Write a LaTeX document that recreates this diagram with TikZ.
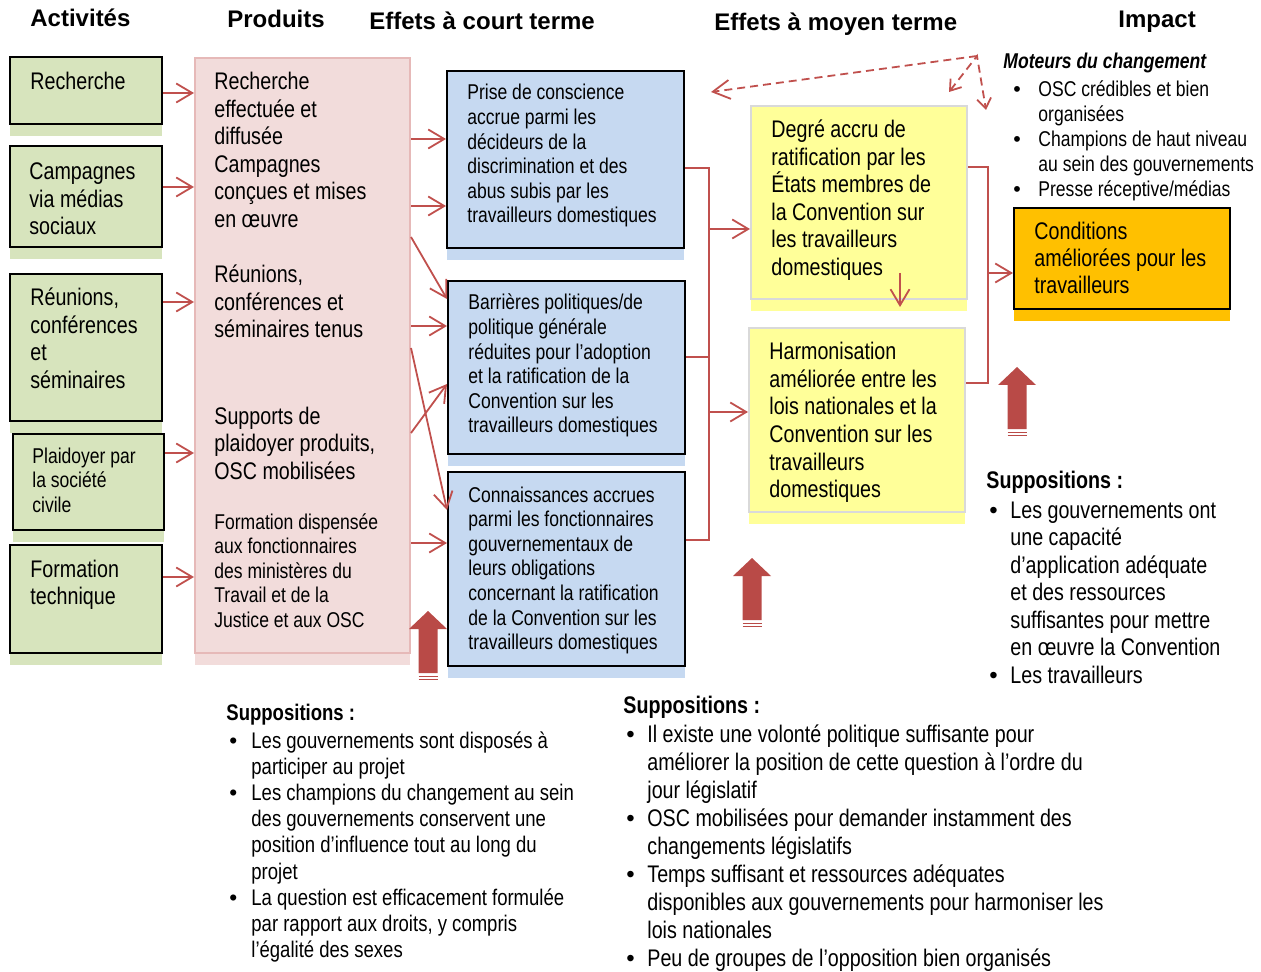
\documentclass[tikz,border=0pt]{standalone}
\usepackage{fontspec}
\setmainfont{Liberation Sans}[FakeStretch=0.82]
\newfontfamily\headfont{Liberation Sans}
\usetikzlibrary{arrows.meta,shadows}

\definecolor{gfill}{HTML}{D7E4BD}
\definecolor{pfill}{HTML}{F2DCDB}
\definecolor{pline}{HTML}{E6B9B8}
\definecolor{bfill}{HTML}{C6D9F1}
\definecolor{yfill}{HTML}{FFFF99}
\definecolor{yline}{HTML}{D9D9D9}
\definecolor{ofill}{HTML}{FFC000}
\definecolor{lred}{HTML}{C0504D}
\definecolor{bigred}{HTML}{B94A47}

\newcommand{\bigf}{\fontsize{12pt}{13.75pt}\selectfont}
\newcommand{\smf}{\fontsize{10.7pt}{12.3pt}\selectfont}
\newcommand{\tb}[1]{\parbox[t]{260pt}{\raggedright #1}}
\newcommand{\itm}[3]{\par\hangindent=#1\hangafter=1\noindent\makebox[#1][l]{\hspace*{#2}{\headfont •}}{\let\\\newline #3}}

\tikzset{
  box/.style={draw=black, line width=1pt, fill=#1, anchor=north west, inner sep=0pt,
    drop shadow={shadow xshift=0pt, shadow yshift=-5.8pt, fill=#1, opacity=1}},
  txt/.style={anchor=base west, inner sep=0pt, font=\bigf},
  head/.style={anchor=base west, inner sep=0pt, font=\headfont\bfseries\fontsize{12pt}{14pt}\selectfont},
  redline/.style={draw=lred, line width=0.9pt},
  conn/.style={redline, -{Straight Barb[length=8pt,width=9.5pt]}},
  dconn/.style={redline, dash pattern=on 4pt off 2.5pt}
}

\begin{document}
\begin{tikzpicture}[x=0.5pt, y=-0.5pt]
\useasboundingbox (0,0) rectangle (1261,972);

% Column headings
\node[head] (hAct) at (30,27) {Activités};
\node[head] (hProd) at (227,28) {Produits};
\node[head] (hCourt) at (369,30) {Effets à court terme};
\node[head] (hMoyen) at (714,31) {Effets à moyen terme};
\node[head] (hImp) at (1118,28) {Impact};

% Activities
\node[box=gfill, minimum width=76pt, minimum height=33.5pt] (rech) at (9,56) {};
\node[box=gfill, minimum width=76pt, minimum height=50.5pt] (camp) at (9,145) {};
\node[box=gfill, minimum width=76pt, minimum height=73.5pt] (reun) at (9,273) {};
\node[box=gfill, minimum width=75.5pt, minimum height=48pt] (plaid) at (12,433) {};
\node[box=gfill, minimum width=76pt, minimum height=54pt] (form) at (9,544) {};
\node[txt] (rechT) at (30,90) {\tb{Recherche}};
\node[txt] (campT) at (29,180) {\tb{Campagnes\\via médias\\sociaux}};
\node[txt] (reunT) at (30,306) {\tb{Réunions,\\conférences\\et\\séminaires}};
\node[txt, font=\smf] (plaidT) at (32,463) {\tb{Plaidoyer par\\la société\\civile}};
\node[txt] (formT) at (30,577) {\tb{Formation\\technique}};

% Outputs
\node[box=pfill, draw=pline, minimum width=107.5pt, minimum height=297.5pt] (prod) at (194,57) {};
\node[txt] (prodA) at (214,90) {\tb{Recherche\\effectuée et\\diffusée\\Campagnes\\conçues et mises\\en œuvre}};
\node[txt] (prodB) at (214,283) {\tb{Réunions,\\conférences et\\séminaires tenus}};
\node[txt] (prodC) at (214,424) {\tb{Supports de\\plaidoyer produits,\\OSC mobilisées}};
\node[txt, font=\smf] (prodD) at (214,529) {\tb{Formation dispensée\\aux fonctionnaires\\des ministères du\\Travail et de la\\Justice et aux OSC}};

% Short-term effects
\node[box=bfill, minimum width=118.5pt, minimum height=88.5pt] (blue1) at (446,70) {};
\node[box=bfill, minimum width=118.5pt, minimum height=86.5pt] (blue2) at (447,280) {};
\node[box=bfill, minimum width=118.5pt, minimum height=97pt] (blue3) at (447,471) {};
\node[txt, font=\smf] (blue1T) at (467,100) {\tb{Prise de conscience\\accrue parmi les\\décideurs de la\\discrimination et des\\abus subis par les\\travailleurs domestiques}};
\node[txt, font=\smf] (blue2T) at (468,310) {\tb{Barrières politiques/de\\politique générale\\réduites pour l’adoption\\et la ratification de la\\Convention sur les\\travailleurs domestiques}};
\node[txt, font=\smf] (blue3T) at (468,502) {\tb{Connaissances accrues\\parmi les fonctionnaires\\gouvernementaux de\\leurs obligations\\concernant la ratification\\de la Convention sur les\\travailleurs domestiques}};

% Medium-term effects
\node[box=yfill, draw=yline, minimum width=108pt, minimum height=96.5pt] (yel1) at (750,105) {};
\node[box=yfill, draw=yline, minimum width=108pt, minimum height=92pt] (yel2) at (748,327) {};
\node[txt] (yel1T) at (771,138) {\tb{Degré accru de\\ratification par les\\États membres de\\la Convention sur\\les travailleurs\\domestiques}};
\node[txt] (yel2T) at (769,360) {\tb{Harmonisation\\améliorée entre les\\lois nationales et la\\Convention sur les\\travailleurs\\domestiques}};

% Impact
\node[box=ofill, minimum width=108pt, minimum height=50.5pt] (cond) at (1013,207) {};
\node[txt, font=\fontsize{12pt}{13.4pt}\selectfont] (condT) at (1034,240) {\tb{Conditions\\améliorées pour les\\travailleurs}};

% Drivers and assumptions
\node[txt, font=\smf] (mot) at (1003,69) {\textbf{\textit{Moteurs du changement}}};
\node[txt, font=\fontsize{10.7pt}{12.5pt}\selectfont] (motL) at (1003,97) {\tb{%
  \itm{17.5pt}{5pt}{OSC crédibles et bien\\organisées}
  \itm{17.5pt}{5pt}{Champions de haut niveau\\au sein des gouvernements}
  \itm{17.5pt}{5pt}{Presse réceptive/médias}}};

\node[txt] (supR) at (986,488) {\textbf{Suppositions :}};
\node[txt] (supRL) at (986,518) {\tb{%
  \itm{12pt}{1.5pt}{Les gouvernements ont\\une capacité\\d’application adéquate\\et des ressources\\suffisantes pour mettre\\en œuvre la Convention}
  \itm{12pt}{1.5pt}{Les travailleurs}}};

\node[txt, font=\fontsize{11.3pt}{13.1pt}\selectfont] (supA) at (226,720) {\textbf{Suppositions :}};
\node[txt, font=\fontsize{11.3pt}{13.1pt}\selectfont] (supAL) at (226,748) {\tb{%
  \itm{12.5pt}{1.5pt}{Les gouvernements sont disposés à\\participer au projet}
  \itm{12.5pt}{1.5pt}{Les champions du changement au sein\\des gouvernements conservent une\\position d’influence tout au long du\\projet}
  \itm{12.5pt}{1.5pt}{La question est efficacement formulée\\par rapport aux droits, y compris\\l’égalité des sexes}}};

\node[txt] (supB) at (623,713) {\textbf{Suppositions :}};
\node[txt, font=\fontsize{12pt}{14.05pt}\selectfont] (supBL) at (623,742) {\tb{%
  \itm{12pt}{1.5pt}{Il existe une volonté politique suffisante pour\\améliorer la position de cette question à l’ordre du\\jour législatif}
  \itm{12pt}{1.5pt}{OSC mobilisées pour demander instamment des\\changements législatifs}
  \itm{12pt}{1.5pt}{Temps suffisant et ressources adéquates\\disponibles aux gouvernements pour harmoniser les\\lois nationales}
  \itm{12pt}{1.5pt}{Peu de groupes de l’opposition bien organisés}}};

% Activities to outputs
\draw[conn] (rech.east |- 0,93) -- (prod.west |- 0,93);
\draw[conn] (camp.east |- 0,187) -- (prod.west |- 0,187);
\draw[conn] (reun.east |- 0,302) -- (prod.west |- 0,302);
\draw[conn] (plaid.east |- 0,453) -- (prod.west |- 0,453);
\draw[conn] (form.east |- 0,577) -- (prod.west |- 0,577);

% Outputs to short-term effects
\draw[conn] (prod.east |- 0,139) -- (blue1.west |- 0,139);
\draw[conn] (prod.east |- 0,206) -- (blue1.west |- 0,206);
\draw[conn] (prod.east |- 0,237) -- (blue2.west |- 0,299);
\draw[conn] (prod.east |- 0,326) -- (blue2.west |- 0,326);
\draw[conn] (prod.east |- 0,433) -- (blue2.west |- 0,384);
\draw[conn] (prod.east |- 0,348) -- (blue3.west |- 0,510);
\draw[conn] (prod.east |- 0,543) -- (blue3.west |- 0,543);

% Short-term to medium-term
\coordinate (brL) at (709,0);
\draw[redline] (blue1.east |- 0,168) -- (brL |- 0,168) -- (brL |- 0,540) -- (blue3.east |- 0,540);
\draw[redline] (blue2.east |- 0,357) -- (brL |- 0,357);
\draw[conn] (brL |- 0,229) -- (yel1.west |- 0,229);
\draw[conn] (brL |- 0,412) -- (yel2.west |- 0,412);

% Medium-term to impact
\coordinate (brR) at (988,0);
\draw[redline] (yel1.east |- 0,167) -- (brR |- 0,167) -- (brR |- 0,383) -- (yel2.east |- 0,383);
\draw[conn] (brR |- 0,273) -- (cond.west |- 0,273);
\coordinate (ydA) at (900,273);
\coordinate (ydB) at (900,307);
\draw[conn] (ydA) -- (ydB);

% Dashed feedback arrows
\coordinate (dm) at (977,56);
\coordinate (dl) at (711,92);
\coordinate (dbl) at (949,92);
\coordinate (dbr) at (986,110);
\draw[dconn, -{Straight Barb[length=8.5pt,width=9.5pt]}] (dm) -- (dl);
\draw[dconn, {Straight Barb[length=5pt,width=7pt]}-{Straight Barb[length=5pt,width=7pt]}] (dbl) -- (dm) -- (dbr);

% Big arrows
\foreach \cx/\ty in {428/611, 752/558, 1017/367} {
  \fill[bigred] (\cx-19,\ty+18) -- (\cx,\ty) -- (\cx+19,\ty+18) -- (\cx+9.5,\ty+18)
    -- (\cx+9.5,\ty+62) -- (\cx-9.5,\ty+62) -- (\cx-9.5,\ty+18) -- cycle;
  \draw[bigred, line width=0.5pt] (\cx-9.5,\ty+65) -- (\cx+9.5,\ty+65)
    (\cx-9.5,\ty+68) -- (\cx+9.5,\ty+68);
}
\end{tikzpicture}
\end{document}
